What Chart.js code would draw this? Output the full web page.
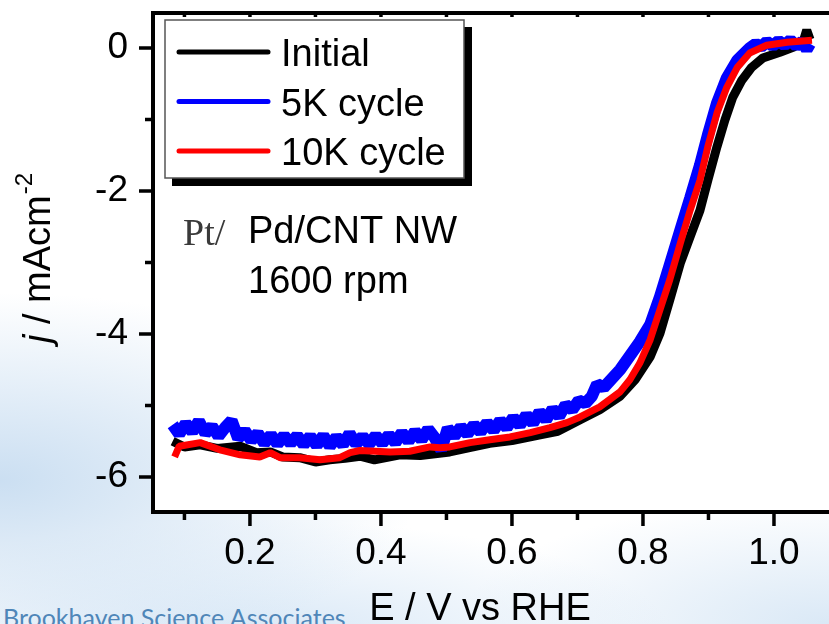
<!DOCTYPE html>
<html>
<head>
<meta charset="utf-8">
<script src="https://cdn.jsdelivr.net/npm/chart.js@4.4.0/dist/chart.umd.min.js"></script>
<style>
html, body { margin: 0; padding: 0; }
body {
    width: 829px; height: 624px; overflow: hidden; position: relative;
    background:
        radial-gradient(ellipse 560px 250px at 0px 480px, rgba(200,221,241,0.95), rgba(200,221,241,0) 75%),
        radial-gradient(ellipse 520px 150px at 260px 640px, rgba(210,228,245,0.9), rgba(210,228,245,0) 80%),
        radial-gradient(ellipse 460px 160px at 829px 624px, rgba(214,230,245,0.9), rgba(214,230,245,0) 80%),
        #ffffff;
}
#footer {
    position: absolute; left: 3px; top: 602px;
    font: 25px Lato, "Open Sans", sans-serif; color: #4f86b8; white-space: nowrap;
}
#orr { position: absolute; left: 0; top: 0; }
</style>
</head>
<body>
<div id="footer">Brookhaven Science Associates</div>
<canvas id="orr" width="829" height="624"></canvas>
<script>
// series (E in V vs RHE, j in mA/cm2)
const seriesNames = ['Initial', '5K cycle', '10K cycle'];

const initialE = [0.082, 0.10, 0.124, 0.15, 0.185, 0.21, 0.231, 0.25, 0.276, 0.30, 0.322, 0.345, 0.368, 0.39, 0.429,
    0.46, 0.505, 0.53, 0.566, 0.60, 0.643, 0.67, 0.704, 0.734, 0.765, 0.788, 0.811, 0.826, 0.841, 0.857,
    0.872, 0.887, 0.899, 0.913, 0.925, 0.937, 0.951, 0.966, 0.983, 1.009, 1.029, 1.045, 1.050, 1.055];
const initialJ = [-5.50, -5.58, -5.55, -5.60, -5.57, -5.66, -5.65, -5.72, -5.73, -5.79, -5.76, -5.74, -5.71, -5.76, -5.69,
    -5.70, -5.65, -5.60, -5.53, -5.49, -5.41, -5.36, -5.20, -5.06, -4.87, -4.64, -4.32, -3.99, -3.52, -3.01,
    -2.64, -2.27, -1.85, -1.38, -1.01, -0.69, -0.45, -0.27, -0.14, -0.06, 0.01, 0.10, 0.25, 0.12];

const cycle5kE = [0.082, 0.092, 0.102, 0.112, 0.122, 0.132, 0.142, 0.152, 0.162, 0.172, 0.182, 0.192, 0.202, 0.212, 0.222,
    0.232, 0.242, 0.252, 0.262, 0.272, 0.282, 0.292, 0.302, 0.312, 0.322, 0.332, 0.342, 0.352, 0.362, 0.372,
    0.382, 0.392, 0.402, 0.412, 0.422, 0.432, 0.442, 0.452, 0.462, 0.472, 0.482, 0.492, 0.502, 0.512, 0.522,
    0.532, 0.542, 0.552, 0.562, 0.572, 0.582, 0.592, 0.602, 0.612, 0.622, 0.632, 0.642, 0.652, 0.662, 0.672,
    0.682, 0.692, 0.702, 0.712, 0.722, 0.730, 0.740, 0.765, 0.795, 0.811, 0.826, 0.841, 0.857, 0.872, 0.887,
    0.899, 0.913, 0.928, 0.944, 0.963, 0.972, 0.980, 0.989, 0.998, 1.007, 1.016, 1.025, 1.034, 1.043, 1.050, 1.055];
const cycle5kJ = [-5.27, -5.40, -5.25, -5.37, -5.22, -5.39, -5.29, -5.43, -5.31, -5.21, -5.46, -5.35, -5.49, -5.39, -5.53,
    -5.41, -5.54, -5.42, -5.53, -5.42, -5.55, -5.43, -5.56, -5.42, -5.57, -5.44, -5.55, -5.39, -5.54, -5.43,
    -5.54, -5.42, -5.53, -5.41, -5.52, -5.38, -5.50, -5.36, -5.48, -5.33, -5.45, -5.62, -5.32, -5.43, -5.30,
    -5.40, -5.27, -5.37, -5.24, -5.35, -5.21, -5.31, -5.17, -5.28, -5.13, -5.25, -5.09, -5.20, -5.05, -5.15,
    -4.99, -5.06, -4.93, -4.97, -4.87, -4.70, -4.75, -4.50, -4.11, -3.87, -3.48, -3.03, -2.55, -2.10, -1.64,
    -1.22, -0.77, -0.42, -0.17, 0.00, 0.06, 0.01, 0.09, 0.03, 0.10, 0.04, 0.11, 0.03, 0.09, -0.02, 0.06];

const cycle10kE = [0.085, 0.092, 0.124, 0.154, 0.185, 0.215, 0.231, 0.246, 0.276, 0.307, 0.337, 0.353, 0.368, 0.414, 0.444,
    0.475, 0.490, 0.505, 0.536, 0.566, 0.597, 0.628, 0.658, 0.684, 0.704, 0.734, 0.765, 0.780, 0.795, 0.811,
    0.826, 0.841, 0.857, 0.872, 0.887, 0.899, 0.913, 0.928, 0.944, 0.963, 0.989, 1.020, 1.058];
const cycle10kJ = [-5.72, -5.57, -5.52, -5.62, -5.69, -5.72, -5.66, -5.73, -5.73, -5.76, -5.73, -5.66, -5.63, -5.65, -5.64,
    -5.58, -5.59, -5.58, -5.52, -5.48, -5.44, -5.38, -5.31, -5.24, -5.16, -5.02, -4.81, -4.64, -4.41, -4.08,
    -3.66, -3.24, -2.73, -2.27, -1.85, -1.38, -0.91, -0.55, -0.27, -0.07, 0.04, 0.08, 0.11];

const xMajorTicks = [0.2, 0.4, 0.6, 0.8, 1.0];
const xMinorTicks = [0.1, 0.3, 0.5, 0.7, 0.9];
const yMajorTicks = [-6, -4, -2, 0];
const yMinorTicks = [-5, -3, -1];

const colors = ['#000000', '#0000ff', '#ff0000'];
const FONT = '"Liberation Sans", Arial, sans-serif';

function zip(es, js) {
    return es.map((e, i) => ({ x: e, y: js[i] }));
}

// axis frame + tick marks, drawn on the chart's own scales
const framePlugin = {
    id: 'frame',
    beforeDatasetsDraw(chart) {
        const a = chart.chartArea, ctx = chart.ctx;
        ctx.save();
        ctx.fillStyle = '#fff';
        ctx.fillRect(a.left, a.top, a.right - a.left, a.bottom - a.top);
        ctx.restore();
    },
    afterDatasetsDraw(chart) {
        const a = chart.chartArea, ctx = chart.ctx;
        const xs = chart.scales.x, ys = chart.scales.y;
        ctx.save();
        ctx.strokeStyle = '#000';
        ctx.lineWidth = 4;
        ctx.beginPath();
        ctx.moveTo(a.left, a.top - 2); ctx.lineTo(a.left, a.bottom + 2);
        ctx.moveTo(a.left - 2, a.bottom); ctx.lineTo(a.right, a.bottom);
        ctx.moveTo(a.left - 2, a.top); ctx.lineTo(a.right, a.top);
        ctx.stroke();

        ctx.lineWidth = 3.5;
        ctx.beginPath();
        xMajorTicks.forEach(v => { const p = xs.getPixelForValue(v); ctx.moveTo(p, a.bottom); ctx.lineTo(p, a.bottom + 14); });
        xMinorTicks.forEach(v => { const p = xs.getPixelForValue(v); ctx.moveTo(p, a.bottom); ctx.lineTo(p, a.bottom + 8); });
        yMajorTicks.forEach(v => { const p = ys.getPixelForValue(v); ctx.moveTo(a.left, p); ctx.lineTo(a.left - 14, p); });
        yMinorTicks.forEach(v => { const p = ys.getPixelForValue(v); ctx.moveTo(a.left, p); ctx.lineTo(a.left - 8, p); });
        xMajorTicks.concat(xMinorTicks).forEach(v => { const p = xs.getPixelForValue(v); ctx.moveTo(p, a.top); ctx.lineTo(p, a.top + 4); });
        ctx.stroke();
        ctx.restore();
    },
    afterDraw(chart) {
        const ctx = chart.ctx;
        ctx.save();

        // legend box with drop shadow
        ctx.fillStyle = '#000';
        ctx.fillRect(172, 27, 300, 159);
        ctx.fillStyle = '#fff';
        ctx.fillRect(165, 20, 299, 158);
        ctx.strokeStyle = '#555';
        ctx.lineWidth = 1.5;
        ctx.strokeRect(165, 20, 299, 158);

        ctx.lineCap = 'round';
        ctx.lineWidth = 5;
        ctx.font = '38px ' + FONT;
        ctx.textBaseline = 'alphabetic';
        seriesNames.forEach((name, i) => {
            const y = 52 + i * 49.5;
            ctx.strokeStyle = colors[i];
            ctx.beginPath();
            ctx.moveTo(179, y); ctx.lineTo(268, y);
            ctx.stroke();
            ctx.fillStyle = '#000';
            ctx.fillText(name, 281, y + 14);
        });

        // sample note
        ctx.fillStyle = '#3a3a3a';
        ctx.font = '38px "Liberation Serif", "Times New Roman", serif';
        ctx.fillText('Pt/', 183, 245);
        ctx.fillStyle = '#000';
        ctx.font = '38px ' + FONT;
        ctx.fillText('Pd/CNT NW', 248, 243);
        ctx.fillText('1600 rpm', 248, 293);

        // x title
        ctx.textAlign = 'center';
        ctx.fillText('E / V vs RHE', 480, 620);

        // y title, rotated
        ctx.translate(50, 343);
        ctx.rotate(-Math.PI / 2);
        ctx.textAlign = 'left';
        ctx.font = 'italic 38px ' + FONT;
        ctx.fillText('j', 0, 0);
        let w = ctx.measureText('j').width;
        ctx.font = '38px ' + FONT;
        ctx.fillText(' / mAcm', w, 0);
        w += ctx.measureText(' / mAcm').width;
        ctx.font = '24px ' + FONT;
        ctx.fillText('-2', w + 1, -18);
        ctx.restore();
    }
};

new Chart(document.getElementById('orr'), {
    type: 'scatter',
    data: {
        datasets: [
            { label: seriesNames[0], data: zip(initialE, initialJ), borderColor: colors[0], borderWidth: 9, order: 2 },
            { label: seriesNames[1], data: zip(cycle5kE, cycle5kJ), borderColor: colors[1], borderWidth: 12, order: 1 },
            { label: seriesNames[2], data: zip(cycle10kE, cycle10kJ), borderColor: colors[2], borderWidth: 7, order: 0 }
        ].map(d => Object.assign(d, { showLine: true, pointRadius: 0, fill: false, tension: 0, borderJoinStyle: 'bevel' }))
    },
    options: {
        responsive: false,
        animation: false,
        events: [],
        layout: { padding: { top: 13, left: 0, right: 0, bottom: 0 } },
        plugins: { legend: { display: false }, tooltip: { enabled: false } },
        scales: {
            x: {
                type: 'linear', min: 0.052, max: 1.084,
                grid: { display: false, drawTicks: false }, border: { display: false },
                ticks: { font: { family: FONT, size: 37 }, color: '#000', padding: 20, maxRotation: 0, autoSkip: false,
                    callback: v => v.toFixed(1) },
                afterBuildTicks: s => { s.ticks = xMajorTicks.map(v => ({ value: v })); },
                afterFit: s => { s.height = 112; s.paddingLeft = 0; s.paddingRight = 0; }
            },
            y: {
                type: 'linear', min: -6.49, max: 0.49,
                grid: { display: false, drawTicks: false }, border: { display: false },
                ticks: { font: { family: FONT, size: 37 }, color: '#000', padding: 25, autoSkip: false,
                    callback: v => String(v) },
                afterBuildTicks: s => { s.ticks = yMajorTicks.map(v => ({ value: v })); },
                afterFit: s => { s.width = 153; s.paddingTop = 0; s.paddingBottom = 0; }
            }
        }
    },
    plugins: [framePlugin]
});
</script>
</body>
</html>
